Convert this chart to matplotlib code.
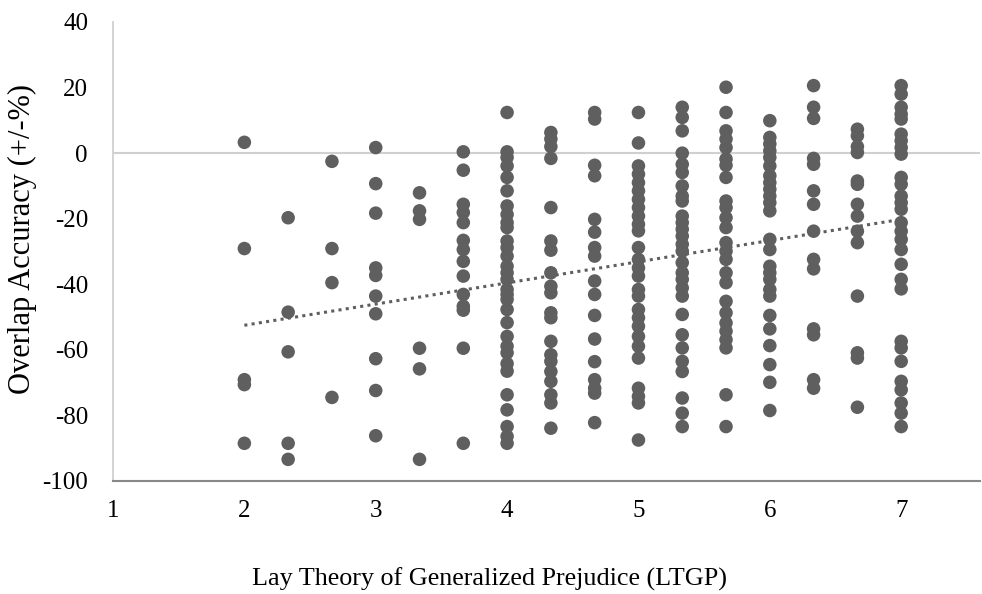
import matplotlib
matplotlib.use("Agg")
import matplotlib.pyplot as plt
import numpy as np

# LTGP level -> overlap accuracy values
col_2 = [3.3, -29.1, -69.1, -70.6, -88.5]
col_233 = [-19.7, -48.5, -60.6, -88.5, -93.4]
col_267 = [-2.5, -29.1, -39.5, -74.5]
col_3 = [1.7, -9.3, -18.3, -35, -37.3, -43.6, -49, -62.7, -72.4, -86.2]
col_333 = [-12.1, -17.6, -20.2, -59.5, -65.8, -93.4]
col_367 = [0.4, -5.2, -15.6, -18.1, -21.2, -26.6, -29.4, -33, -37.5, -43.1, -46.7, -47.9, -59.5, -88.5]
col_4 = [12.4, 0.4, -1.3, -3.9, -7.4, -11.5, -16.1, -18.7, -21.2, -22.7, -26.8, -28.8, -31.4, -34.5,
         -36.5, -38.5, -41.6, -43.1, -44.6, -47.7, -51.7, -55.9, -58.9, -60.9, -64.2, -66.5, -73.7,
         -78.3, -83.4, -86.4, -88.5]
col_433 = [6.3, 4.3, 2.0, -1.6, -16.6, -26.8, -29.6, -36.5, -40.6, -42.6, -48.7, -50.2, -57.4, -61.5,
           -63.5, -66.6, -69.6, -73.7, -76.2, -83.9]
col_467 = [12.4, 10.4, -3.7, -6.9, -20.2, -24.1, -28.8, -31.4, -39, -43.1, -49.5, -56.7, -63.6, -69.1,
           -71.7, -73.2, -82.2]
col_5 = [12.4, 3.1, -3.9, -6.4, -9, -11.5, -14.1, -16.6, -19.2, -21.7, -23.7, -28.8, -32.4, -35, -37.5,
         -41.6, -43.6, -47.7, -50.2, -52.8, -55.9, -58.9, -62.5, -71.7, -74.2, -76.2, -87.5]
col_533 = [14, 10.9, 6.8, 0, -3.4, -5.9, -10, -13.1, -14.6, -19.2, -21.2, -23.2, -25.3, -27.8, -29.9,
           -33.4, -36.5, -38.5, -41.1, -43.6, -49.2, -55.4, -59.4, -63.5, -66.6, -74.7, -79.3, -83.4]
col_567 = [20.1, 12.4, 6.8, 4.3, 1.7, -1.8, -3.7, -7.4, -14.6, -16.6, -19.7, -22.7, -27.3, -29.9, -32.4,
           -36.5, -39.5, -45.2, -48.7, -51.8, -54.3, -56.9, -59.4, -73.7, -83.4]
col_6 = [9.9, 4.8, 2.8, 0.7, -1.3, -3.9, -6.9, -9, -11, -13.1, -15.1, -17.6, -26.3, -29.4, -34.5, -36.5,
         -38.5, -41.6, -43.6, -49.5, -53.6, -58.7, -64.5, -69.9, -78.5]
col_633 = [20.6, 14, 10.6, -1.6, -3.4, -11.5, -15.6, -23.8, -32.4, -35.3, -53.6, -55.4, -69.1, -71.7]
col_667 = [7.3, 5.3, 2.0, 0.2, -8.5, -9.5, -15.6, -19.2, -23.8, -27.3, -43.6, -60.9, -62.5, -77.5]
col_7 = [20.6, 18, 14, 11.9, 10.4, 5.8, 3.8, 1.7, -0.3, -7.4, -9.5, -13.1, -15.1, -17.1, -21.2, -23.8,
         -26.3, -29.4, -33.9, -38.5, -41.4, -57.4, -59.4, -63.5, -69.6, -72.2, -76.2, -79.3, -83.4]

ltgp_levels = [2, 7/3, 8/3, 3, 10/3, 11/3, 4, 13/3, 14/3, 5, 16/3, 17/3, 6, 19/3, 20/3, 7]
accuracy_cols = [col_2, col_233, col_267, col_3, col_333, col_367, col_4, col_433, col_467,
                 col_5, col_533, col_567, col_6, col_633, col_667, col_7]

trend_x = [2, 7]
trend_y = [-52.5, -20.2]

x_ticks = [1, 2, 3, 4, 5, 6, 7]
y_ticks = [-100, -80, -60, -40, -20, 0, 20, 40]

xs = np.concatenate([[lv] * len(c) for lv, c in zip(ltgp_levels, accuracy_cols)])
ys = np.concatenate([np.array(c, dtype=float) for c in accuracy_cols])

plt.rcParams['font.family'] = ['Liberation Serif', 'DejaVu Serif']

fig = plt.figure(figsize=(9.82, 5.94), dpi=100)
ax = fig.add_axes([113/982, 1 - 481/594, (980 - 113)/982, (481 - 22)/594])

ax.axhline(0, color='#d0d0d0', lw=1.5, zorder=1)
ax.scatter(xs, ys, s=95, color='#5f5f5f', edgecolors='none', zorder=3)
ax.plot(trend_x, trend_y, linestyle=(0, (1, 1.4)), color='#5f5f5f', lw=2.2, zorder=4)

ax.set_xlim(1, 7.6)
ax.set_ylim(-100, 40)
ax.set_xticks(x_ticks)
ax.set_yticks(y_ticks)
ax.set_xticklabels([str(t) for t in x_ticks])
ax.set_yticklabels([str(t) for t in y_ticks])
ax.tick_params(axis='both', length=0, labelsize=18, colors='black')
ax.tick_params(axis='x', pad=14)
ax.tick_params(axis='y', pad=18)

for s in ['top', 'right']:
    ax.spines[s].set_visible(False)
ax.spines['left'].set_color('#d0d0d0')
ax.spines['left'].set_linewidth(1.3)
ax.spines['bottom'].set_color('#888888')
ax.spines['bottom'].set_linewidth(1.5)

ax.set_xlabel('Lay Theory of Generalized Prejudice (LTGP)', fontsize=18.8)
ax.xaxis.set_label_coords((490 - 113) / 867, -(568 - 481) / 459)
ax.set_ylabel('Overlap Accuracy (+/-%)', fontsize=22)
ax.yaxis.set_label_coords(-(113 - 37) / 867, (481 - 239) / 459)

fig.savefig('out.png', dpi=100)
